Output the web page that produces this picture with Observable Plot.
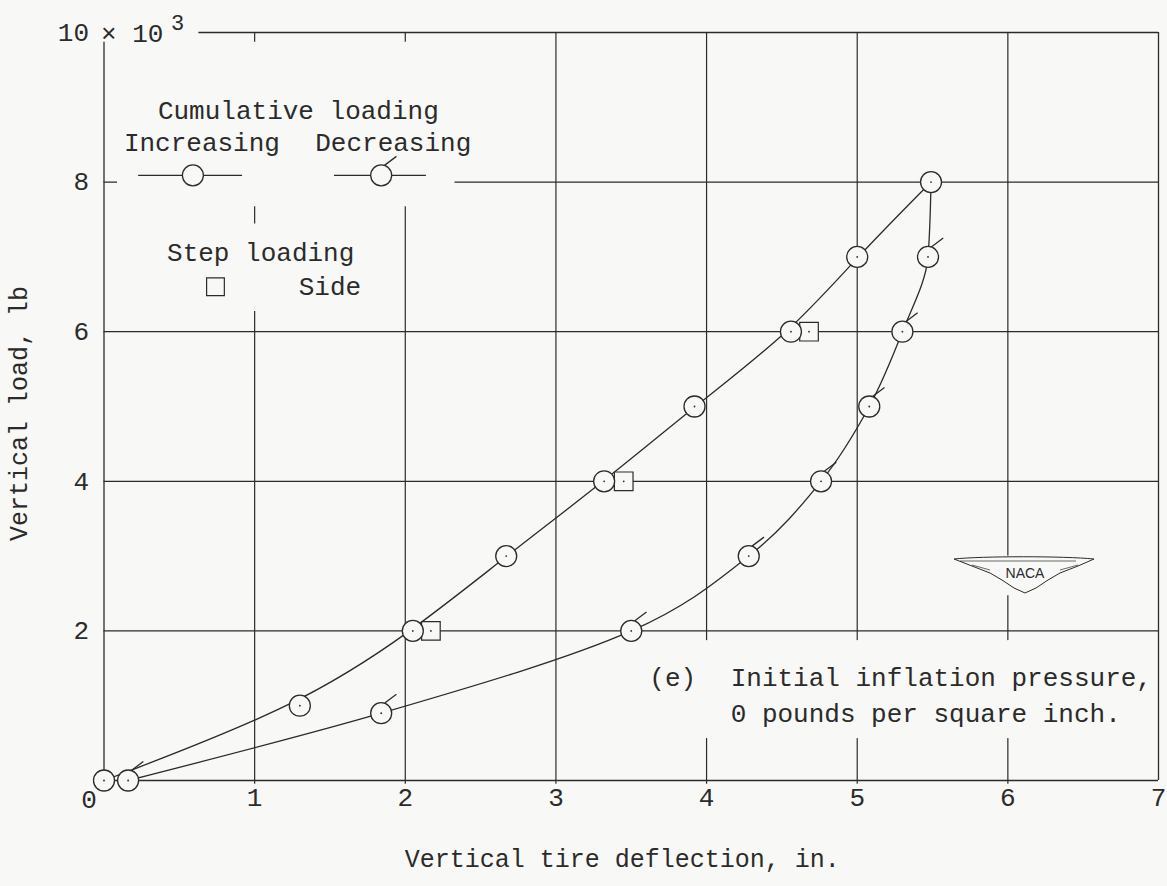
<!DOCTYPE html>
<html><head><meta charset="utf-8">
<script src="https://cdn.jsdelivr.net/npm/d3@7"></script>
<script src="https://cdn.jsdelivr.net/npm/@observablehq/plot@0.6"></script>
<style>
body{margin:0;background:#f8f8f6;}
#chart{position:relative;width:1167px;height:886px;}
#logo{position:absolute;left:952px;top:552px;}
</style></head><body><div id="chart"></div>
<script>
// Vertical tire deflection (in.) and vertical load (x10^3 lb)
const increasingX = [0, 1.30, 2.05, 2.67, 3.32, 3.92, 4.56, 5.00, 5.49];
const increasingY = [0, 1.0, 2.0, 3.0, 4.0, 5.0, 6.0, 7.0, 8.0];
const decreasingX = [5.49, 5.47, 5.30, 5.08, 4.76, 4.28, 3.50, 1.84, 0.16];
const decreasingY = [8.0, 7.0, 6.0, 5.0, 4.0, 3.0, 2.0, 0.9, 0];
const stepSideX = [2.17, 3.45, 4.68];
const stepSideY = [2.0, 4.0, 6.0];
const xTicks = [0, 1, 2, 3, 4, 5, 6, 7];
const yTicks = [2, 4, 6, 8, 10];
const gridX = [1, 2, 3, 4, 5, 6];
const gridY = [2, 4, 6, 8];

const BG = "#f8f8f6", INK = "#2b2b2b";
const inc = increasingX.map((x, i) => ({x, y: increasingY[i]}));
const dec = decreasingX.map((x, i) => ({x, y: decreasingY[i]}));
const side = stepSideX.map((x, i) => ({x, y: stepSideY[i]}));

// circle with a small flag (decreasing-load symbol)
const flagCircle = {
  draw(ctx, size) {
    const r = Math.sqrt(size / Math.PI);
    ctx.moveTo(r, 0); ctx.arc(0, 0, r, 0, 2 * Math.PI);
    const a = -72 * Math.PI / 180;
    const sx = r * Math.cos(a), sy = r * Math.sin(a);
    ctx.moveTo(sx, sy); ctx.lineTo(sx + 12, sy - 9);
  }
};

const mono = "Liberation Mono, DejaVu Sans Mono, monospace";
const R = 10.5;

const chart = Plot.plot({
  width: 1167, height: 886,
  marginLeft: 103.5, marginRight: 9, marginTop: 32, marginBottom: 106,
  x: {domain: [0, 7], axis: null},
  y: {domain: [0, 10], axis: null},
  style: {background: "transparent", fontFamily: mono, color: INK, overflow: "visible"},
  marks: [
    // grid & frame
    Plot.ruleX(gridX, {stroke: INK, strokeWidth: 1.2, y1: -0.05, y2: 10}),
    Plot.ruleY(gridY, {stroke: INK, strokeWidth: 1.2, x1: 0, x2: 7}),
    Plot.ruleY([0], {stroke: INK, strokeWidth: 1.3}),
    Plot.ruleX([7], {stroke: INK, strokeWidth: 1.3, y1: 0, y2: 10}),
    Plot.ruleX([0], {stroke: INK, strokeWidth: 1.3, y1: 0, y2: 9.87}),
    Plot.ruleY([10], {stroke: INK, strokeWidth: 1.3, x1: 0.63, x2: 7}),
    // masks behind legend / annotation / logo
    Plot.rect([0], {x1: 0.09, x2: 2.33, y1: 7.67, y2: 9.87, fill: BG}),
    Plot.rect([0], {x1: 0.31, x2: 1.76, y1: 6.27, y2: 7.44, fill: BG}),
    Plot.rect([0], {x1: 3.55, x2: 6.94, y1: 0.56, y2: 1.87, fill: BG}),
    Plot.rect([0], {x1: 5.64, x2: 6.57, y1: 2.47, y2: 3.0, fill: BG}),
    // tick labels
    Plot.text(xTicks.filter(d => d > 0), {x: d => d, frameAnchor: "bottom", lineAnchor: "middle", dy: 17, fontSize: 26, fill: INK, text: d => String(d)}),
    Plot.text(xTicks.filter(d => d === 0), {x: d => d, frameAnchor: "bottom", lineAnchor: "middle", dy: 19, dx: -15, fontSize: 26, fill: INK, text: d => String(d)}),
    Plot.text(yTicks, {y: d => d, frameAnchor: "left", textAnchor: "end", lineAnchor: "middle", dx: -15, fontSize: 26, fill: INK, text: d => String(d)}),
    Plot.text(["\u00d7 10"], {frameAnchor: "top-left", textAnchor: "start", lineAnchor: "middle", dx: -3, dy: 1, fontSize: 26, fill: INK}),
    Plot.text(["3"], {frameAnchor: "top-left", textAnchor: "start", lineAnchor: "middle", dx: 67, dy: -10, fontSize: 22, fill: INK}),
    Plot.text(["Vertical tire deflection, in."], {frameAnchor: "bottom", textAnchor: "middle", lineAnchor: "middle", dy: 78, dx: -9, fontSize: 25, fill: INK}),
    Plot.text(["Vertical load, lb"], {frameAnchor: "left", textAnchor: "middle", lineAnchor: "middle", rotate: -90, dx: -85, dy: 7, fontSize: 25, fill: INK}),
    // data curves
    Plot.line(inc, {x: "x", y: "y", curve: "basis", stroke: INK, strokeWidth: 1.3}),
    Plot.line(dec, {x: "x", y: "y", curve: "monotone-y", stroke: INK, strokeWidth: 1.3}),
    Plot.dot(side, {x: "x", y: "y", symbol: "square", r: 10.5, fill: BG, stroke: INK, strokeWidth: 1.2}),
    Plot.dot(inc, {x: "x", y: "y", r: R, fill: BG, stroke: INK, strokeWidth: 1.3}),
    Plot.dot(dec.slice(1), {x: "x", y: "y", r: R, symbol: flagCircle, fill: BG, stroke: INK, strokeWidth: 1.3}),
    Plot.dot([...inc, ...dec.slice(1), ...side], {x: "x", y: "y", r: 0.9, fill: INK, stroke: null}),
    // legend
    Plot.text(["Cumulative loading"], {x: 1.29, y: 8.96, fontSize: 26, fill: INK}),
    Plot.text(["Increasing"], {x: 0.65, y: 8.53, fontSize: 26, fill: INK}),
    Plot.text(["Decreasing"], {x: 1.92, y: 8.53, fontSize: 26, fill: INK}),
    Plot.ruleY([8.09], {x1: 0.23, x2: 0.92, stroke: INK, strokeWidth: 1.2}),
    Plot.ruleY([8.09], {x1: 1.53, x2: 2.14, stroke: INK, strokeWidth: 1.2}),
    Plot.dot([0], {x: () => 0.59, y: () => 8.09, r: R, fill: BG, stroke: INK, strokeWidth: 1.3}),
    Plot.dot([0], {x: () => 1.84, y: () => 8.09, r: R, symbol: flagCircle, fill: BG, stroke: INK, strokeWidth: 1.3}),
    Plot.text(["Step loading"], {x: 1.04, y: 7.05, fontSize: 26, fill: INK}),
    Plot.dot([0], {x: () => 0.74, y: () => 6.6, r: 10, symbol: "square", fill: BG, stroke: INK, strokeWidth: 1.2}),
    Plot.text(["Side"], {x: 1.50, y: 6.6, fontSize: 26, fill: INK}),
    // annotation
    Plot.text(["(e)"], {x: 3.62, y: 1.37, textAnchor: "start", fontSize: 26, fill: INK}),
    Plot.text(["Initial inflation pressure,"], {x: 4.16, y: 1.37, textAnchor: "start", fontSize: 26, fill: INK}),
    Plot.text(["0 pounds per square inch."], {x: 4.16, y: 0.89, textAnchor: "start", fontSize: 26, fill: INK})
  ]
});
document.getElementById("chart").appendChild(chart);

// NACA wing logo (decoration)
const logo = document.createElementNS("http://www.w3.org/2000/svg", "svg");
logo.setAttribute("id", "logo");
logo.setAttribute("width", "146"); logo.setAttribute("height", "46");
logo.innerHTML = `<path d="M2,7 C30,4 112,4 142,7 L126,14 L108,21 L96,28 L84,36 L73,41 L62,36 L50,28 L38,21 L20,14 Z" fill="${BG}" stroke="${INK}" stroke-width="1"/>
<path d="M8,9 L124,9 M20,13 L38,18 M126,13 L108,18" stroke="${INK}" stroke-width="0.7" fill="none"/>
<text x="73" y="22" text-anchor="middle" dominant-baseline="middle" font-family="Liberation Sans, Arial, sans-serif" font-size="14" fill="${INK}">NACA</text>`;
document.getElementById("chart").appendChild(logo);
</script></body></html>
